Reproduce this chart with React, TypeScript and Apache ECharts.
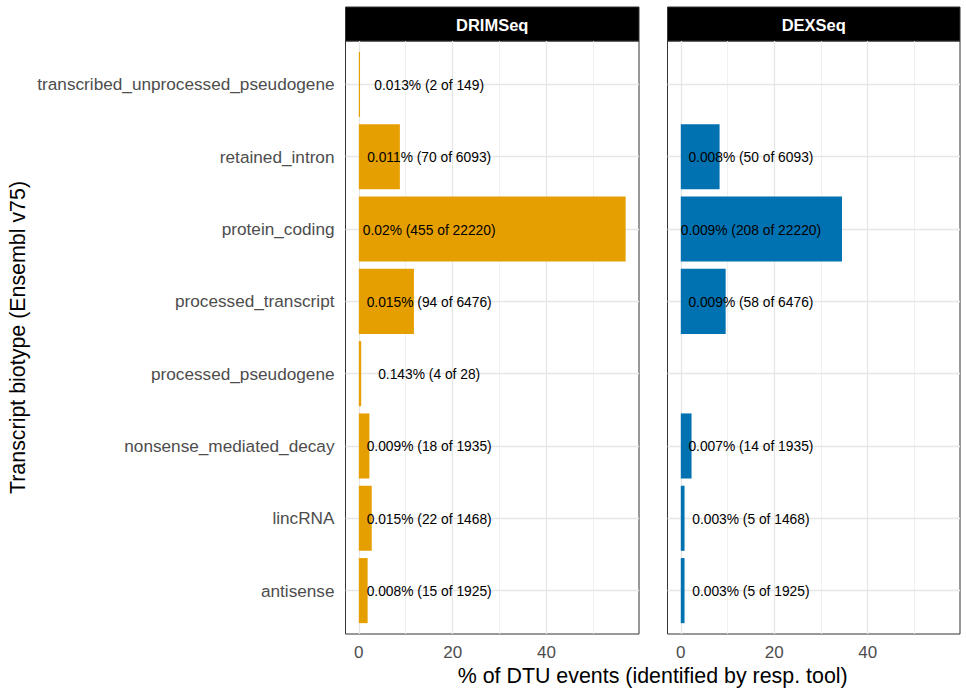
import React, { useEffect, useRef } from "react";
import * as echarts from "echarts";

// Categories (bottom to top)
const categories = [
  "antisense",
  "lincRNA",
  "nonsense_mediated_decay",
  "processed_pseudogene",
  "processed_transcript",
  "protein_coding",
  "retained_intron",
  "transcribed_unprocessed_pseudogene",
];

const panels = ["DRIMSeq", "DEXSeq"];

const drimValues = [1.875, 2.75, 2.25, 0.5, 11.75, 56.9, 8.75, 0.25];
const drimLabels = [
  "0.008% (15 of 1925)",
  "0.015% (22 of 1468)",
  "0.009% (18 of 1935)",
  "0.143% (4 of 28)",
  "0.015% (94 of 6476)",
  "0.02% (455 of 22220)",
  "0.011% (70 of 6093)",
  "0.013% (2 of 149)",
];

const dexValues: (number | null)[] = [0.8, 0.8, 2.3, null, 9.6, 34.5, 8.3, null];
const dexLabels: (string | null)[] = [
  "0.003% (5 of 1925)",
  "0.003% (5 of 1468)",
  "0.007% (14 of 1935)",
  null,
  "0.009% (58 of 6476)",
  "0.009% (208 of 22220)",
  "0.008% (50 of 6093)",
  null,
];

const xTickLabels = [0, 20, 40];
const xMinorGrid = [10, 30, 50];
const labelX = 15;

const colors = ["#E69F00", "#0072B2"];
const FONT = "'Liberation Sans', Arial, Helvetica, sans-serif";

const X_MIN = -2.845;
const X_MAX = 59.745;

export default function App() {
  const ref = useRef<HTMLDivElement>(null);

  useEffect(() => {
    if (!ref.current) return;
    const chart = echarts.init(ref.current, null, { renderer: "svg" });

    const grids = [
      { left: 345.5, top: 41, width: 293.5, height: 593 },
      { left: 667.5, top: 41, width: 292.5, height: 593 },
    ];

    const allValues = [drimValues, dexValues];
    const allLabels = [drimLabels, dexLabels];

    const xAxes = grids.map((_, i) => ({
      type: "value",
      gridIndex: i,
      min: X_MIN,
      max: X_MAX,
      axisLine: { show: false },
      splitLine: { show: false },
      axisTick: {
        show: true,
        customValues: xTickLabels,
        length: 5,
        lineStyle: { color: "#333333", width: 1 },
      },
      axisLabel: {
        customValues: xTickLabels,
        color: "#4d4d4d",
        fontSize: 17,
        fontFamily: FONT,
        margin: 10,
      },
    }));

    const yAxes = grids.map((_, i) => ({
      type: "value",
      gridIndex: i,
      min: -0.6,
      max: 7.6,
      axisLine: { show: false },
      splitLine: { show: false },
      axisTick: {
        show: i === 0,
        customValues: categories.map((_, k) => k),
        length: 5,
        lineStyle: { color: "#333333", width: 1 },
      },
      axisLabel: {
        show: i === 0,
        customValues: categories.map((_, k) => k),
        formatter: (v: number) => categories[Math.round(v)] ?? "",
        color: "#4d4d4d",
        fontSize: 17.2,
        fontFamily: FONT,
        margin: 11,
      },
    }));

    const gridSeries = grids.map((_, i) => ({
      type: "line",
      xAxisIndex: i,
      yAxisIndex: i,
      data: [],
      silent: true,
      z: 1,
      markLine: {
        silent: true,
        z: 1,
        symbol: ["none", "none"],
        label: { show: false },
        lineStyle: { color: "#e6e6e6", width: 1.3, type: "solid" },
        emphasis: { disabled: true },
        data: [
          ...xTickLabels.map((v) => ({ xAxis: v })),
          ...xMinorGrid.map((v) => ({
            xAxis: v,
            lineStyle: { color: "#ececec", width: 0.8, type: "solid" },
          })),
          ...categories.map((_, k) => ({ yAxis: k })),
        ],
      },
    }));

    const barSeries = grids.map((_, i) => {
      const vals = allValues[i];
      const labs = allLabels[i];
      const data = vals
        .map((v, k) => (v == null ? null : [v, k, k]))
        .filter((d) => d !== null);
      return {
        type: "custom",
        xAxisIndex: i,
        yAxisIndex: i,
        z: 3,
        silent: true,
        data,
        encode: { x: 0, y: 1 },
        renderItem: (params: any, api: any) => {
          const v = api.value(0);
          const k = api.value(1);
          const idx = api.value(2);
          const p0 = api.coord([0, k + 0.45]);
          const p1 = api.coord([v, k - 0.45]);
          const pc = api.coord([labelX, k]);
          const text = labs[idx];
          return {
            type: "group",
            children: [
              {
                type: "rect",
                shape: {
                  x: p0[0],
                  y: p0[1],
                  width: p1[0] - p0[0],
                  height: p1[1] - p0[1],
                },
                style: { fill: colors[i] },
              },
              {
                type: "text",
                z2: 10,
                style: {
                  text: text ?? "",
                  x: pc[0],
                  y: pc[1] + 1,
                  align: "center",
                  verticalAlign: "middle",
                  fontSize: 13.8,
                  fontFamily: FONT,
                  fill: "#000000",
                },
              },
            ],
          };
        },
      };
    });

    const graphics: any[] = [];
    grids.forEach((g, i) => {
      graphics.push({
        type: "rect",
        shape: { x: g.left, y: 7, width: g.width, height: 34 },
        style: { fill: "#000000", stroke: "#333333", lineWidth: 1 },
        silent: true,
      });
      graphics.push({
        type: "text",
        style: {
          text: panels[i],
          x: g.left + g.width / 2,
          y: 24.5,
          align: "center",
          verticalAlign: "middle",
          fill: "#ffffff",
          fontSize: 16.5,
          fontWeight: "bold",
          fontFamily: FONT,
        },
        silent: true,
      });
    });
    graphics.push({
      type: "text",
      style: {
        text: "% of DTU events (identified by resp. tool)",
        x: 652.7,
        y: 676,
        align: "center",
        verticalAlign: "middle",
        fill: "#000000",
        fontSize: 21.4,
        fontFamily: FONT,
      },
      silent: true,
    });
    graphics.push({
      type: "text",
      x: 18,
      y: 337.5,
      rotation: Math.PI / 2,
      style: {
        text: "Transcript biotype (Ensembl v75)",
        x: 0,
        y: 0,
        align: "center",
        verticalAlign: "middle",
        fill: "#000000",
        fontSize: 21.4,
        fontFamily: FONT,
      },
      silent: true,
    });

    chart.setOption({
      animation: false,
      backgroundColor: "#ffffff",
      grid: grids.map((g) => ({
        ...g,
        show: true,
        backgroundColor: "#ffffff",
        borderColor: "#333333",
        borderWidth: 1,
        containLabel: false,
      })),
      xAxis: xAxes,
      yAxis: yAxes,
      series: [...gridSeries, ...barSeries],
      graphic: graphics,
    });

    return () => chart.dispose();
  }, []);

  return (
    <div
      ref={ref}
      style={{ position: "fixed", left: 0, top: 0, width: 966, height: 689 }}
    />
  );
}
